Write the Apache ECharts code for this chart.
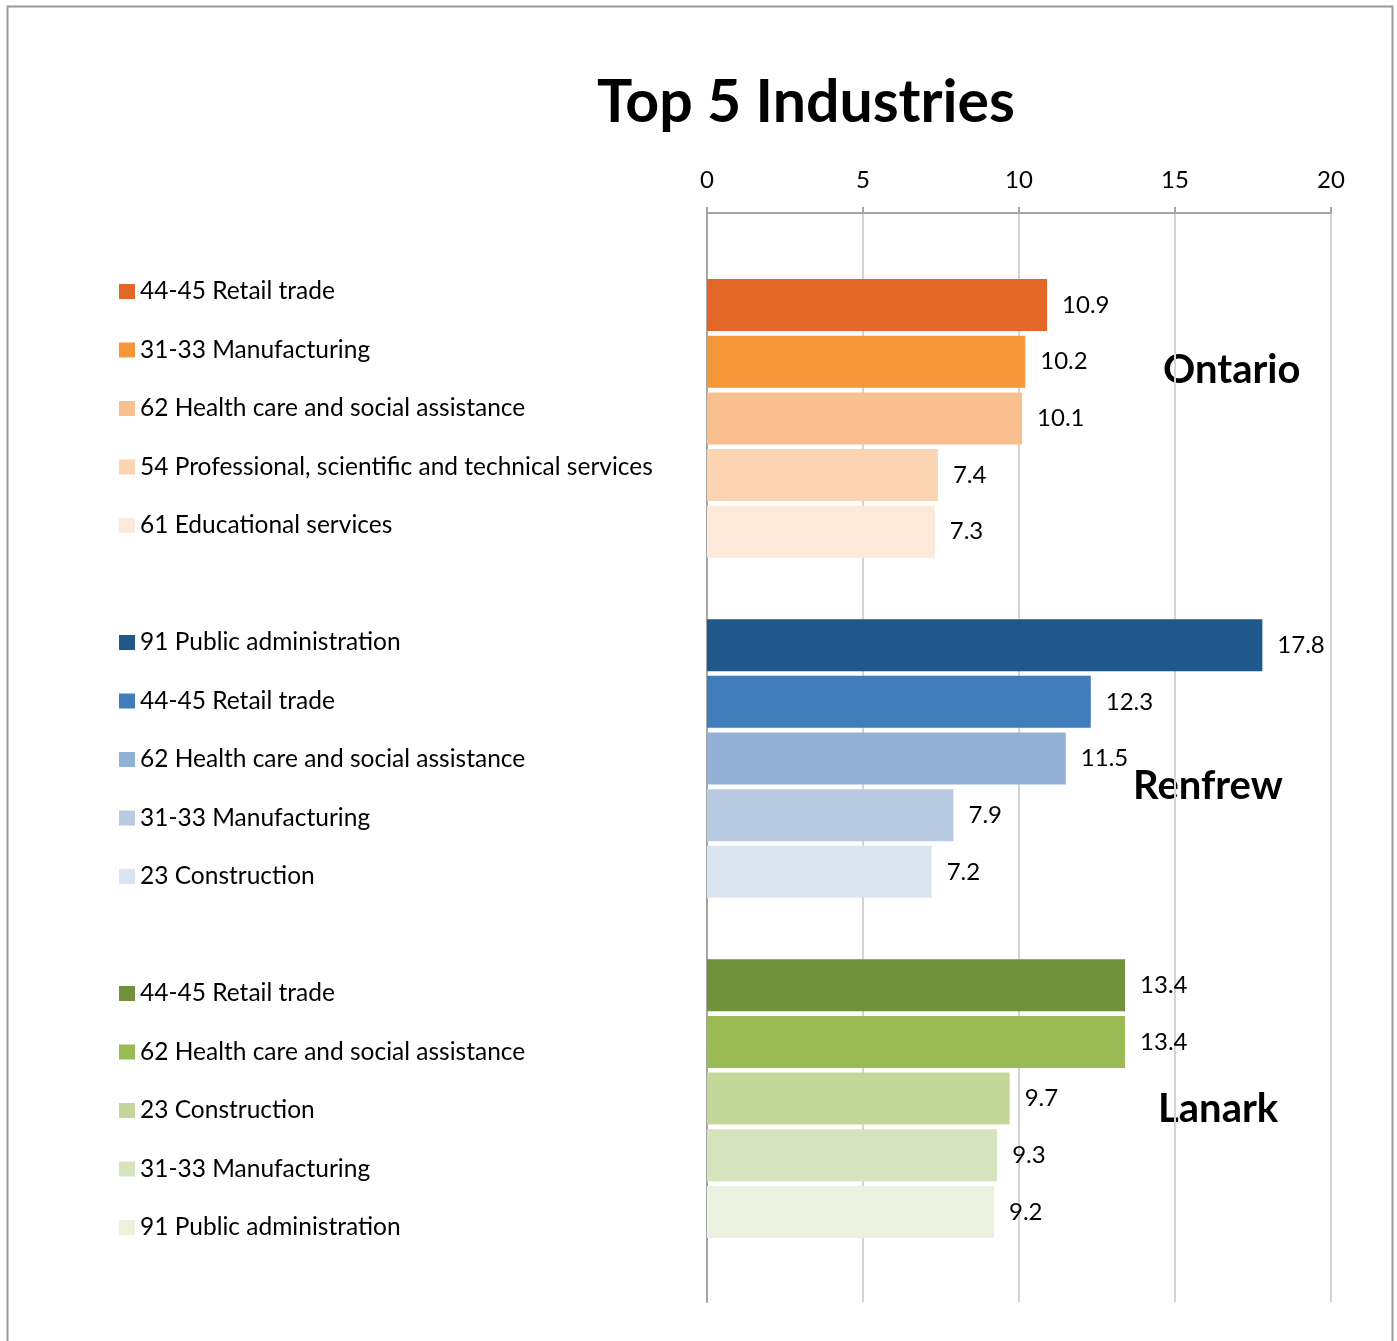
<!DOCTYPE html>
<html>
<head>
<meta charset="utf-8">
<script src="https://cdn.jsdelivr.net/npm/echarts@6/dist/echarts.min.js"></script>
<style>
  html, body { margin: 0; padding: 0; background: #fff; }
  #chart { width: 1397px; height: 1341px; }
</style>
</head>
<body>
<div id="chart"></div>
<script>
// Share of employment (%) for the top five industries in each region
const regions = ['Ontario', 'Renfrew', 'Lanark'];

const ontarioIndustries = ['44-45 Retail trade', '31-33 Manufacturing', '62 Health care and social assistance',
  '54 Professional, scientific and technical services', '61 Educational services'];
const ontarioValues = [10.9, 10.2, 10.1, 7.4, 7.3];

const renfrewIndustries = ['91 Public administration', '44-45 Retail trade', '62 Health care and social assistance',
  '31-33 Manufacturing', '23 Construction'];
const renfrewValues = [17.8, 12.3, 11.5, 7.9, 7.2];

const lanarkIndustries = ['44-45 Retail trade', '62 Health care and social assistance', '23 Construction',
  '31-33 Manufacturing', '91 Public administration'];
const lanarkValues = [13.4, 13.4, 9.7, 9.3, 9.2];

const xTicks = [0, 5, 10, 15, 20];

const ontarioColors = ['#E36727', '#F59639', '#F9BF8E', '#FBD4B2', '#FDE9D9'];
const renfrewColors = ['#1F598C', '#417DBB', '#93B1D7', '#B8CBE3', '#DBE5F1'];
const lanarkColors  = ['#71913C', '#9ABA53', '#C4D79B', '#D6E4BD', '#EBF1DF'];

const FONT = 'Lato';
const TEXT_SIZE = 24;
const groupData = [
  { region: regions[0], industries: ontarioIndustries, values: ontarioValues, colors: ontarioColors },
  { region: regions[1], industries: renfrewIndustries, values: renfrewValues, colors: renfrewColors },
  { region: regions[2], industries: lanarkIndustries, values: lanarkValues, colors: lanarkColors }
];

// Category slots: a blank spacer before each group and one after the last
const slots = [];
groupData.forEach(g => {
  slots.push('');
  g.industries.forEach(name => slots.push(g.region + '|' + name));
});
slots.push('');

const series = [];
const legends = [];
const legendTops = [279, 630, 981];
groupData.forEach((g, gi) => {
  const names = [];
  g.industries.forEach((name, i) => {
    const key = g.region + '|' + name;
    names.push(key);
    series.push({
      type: 'bar',
      name: key,
      xAxisIndex: 1,
      yAxisIndex: 1,
      barWidth: 52,
      barGap: '-100%',
      itemStyle: { color: g.colors[i] },
      label: {
        show: true,
        position: 'right',
        distance: 15,
        fontFamily: FONT,
        fontSize: TEXT_SIZE,
        color: '#000',
        formatter: p => Number(p.value[0]).toFixed(1)
      },
      data: [[g.values[i], key]]
    });
  });
  legends.push({
    orient: 'vertical',
    left: 119,
    top: legendTops[gi],
    padding: 0,
    icon: 'rect',
    itemWidth: 16,
    itemHeight: 15,
    itemGap: 33.5,
    selectedMode: false,
    textStyle: { fontFamily: FONT, fontSize: 24.5, lineHeight: 24, color: '#000' },
    formatter: n => n.split('|')[1],
    data: names
  });
});

const chart = echarts.init(document.getElementById('chart'), null, { renderer: 'canvas' });
chart.setOption({
  animation: false,
  backgroundColor: '#fff',
  title: {
    text: 'Top 5 Industries',
    left: 806,
    top: 73,
    padding: 0,
    textAlign: 'center',
    textStyle: { fontFamily: FONT, fontWeight: 'bold', fontSize: 59, color: '#000' }
  },
  legend: legends,
  grid: [
    // frame grid: axis line, ticks and gridlines
    { left: 707, right: 66, top: 213, bottom: 39 },
    // bar grid
    { left: 707, right: 66, top: 220, bottom: 44 }
  ],
  xAxis: [
    {
      gridIndex: 0,
      type: 'value',
      position: 'top',
      min: xTicks[0],
      max: xTicks[xTicks.length - 1],
      interval: xTicks[1] - xTicks[0],
      axisLine: { show: true, onZero: false, lineStyle: { color: '#A6A6A6', width: 2 } },
      axisTick: { show: true, length: 6, lineStyle: { color: '#A6A6A6', width: 2 } },
      axisLabel: { margin: 21, fontFamily: FONT, fontSize: TEXT_SIZE, color: '#000' },
      splitLine: { show: true, lineStyle: { color: '#D4D4D4', width: 2 } }
    },
    {
      gridIndex: 1,
      type: 'value',
      min: xTicks[0],
      max: xTicks[xTicks.length - 1],
      show: false
    }
  ],
  yAxis: [
    {
      gridIndex: 0,
      type: 'value',
      min: 0,
      max: 1,
      axisLine: { show: true, onZero: false, lineStyle: { color: '#A6A6A6', width: 2 } },
      axisTick: { show: false },
      axisLabel: { show: false },
      splitLine: { show: false }
    },
    {
      gridIndex: 1,
      type: 'category',
      inverse: true,
      data: slots,
      show: false
    }
  ],
  graphic: [
    {
      type: 'rect',
      silent: true,
      shape: { x: 7.5, y: 6.5, width: 1385, height: 1345 },
      style: { fill: null, stroke: '#9A9A9A', lineWidth: 2 }
    },
    {
      type: 'text', left: 1163, top: 350,
      style: { text: regions[0], fontFamily: FONT, fontWeight: 'bold', fontSize: 40, fill: '#000' }
    },
    {
      type: 'text', left: 1133, top: 766,
      style: { text: regions[1], fontFamily: FONT, fontWeight: 'bold', fontSize: 40, fill: '#000' }
    },
    {
      type: 'text', left: 1158, top: 1089,
      style: { text: regions[2], fontFamily: FONT, fontWeight: 'bold', fontSize: 40, fill: '#000' }
    }
  ],
  series: series
});
</script>
</body>
</html>
